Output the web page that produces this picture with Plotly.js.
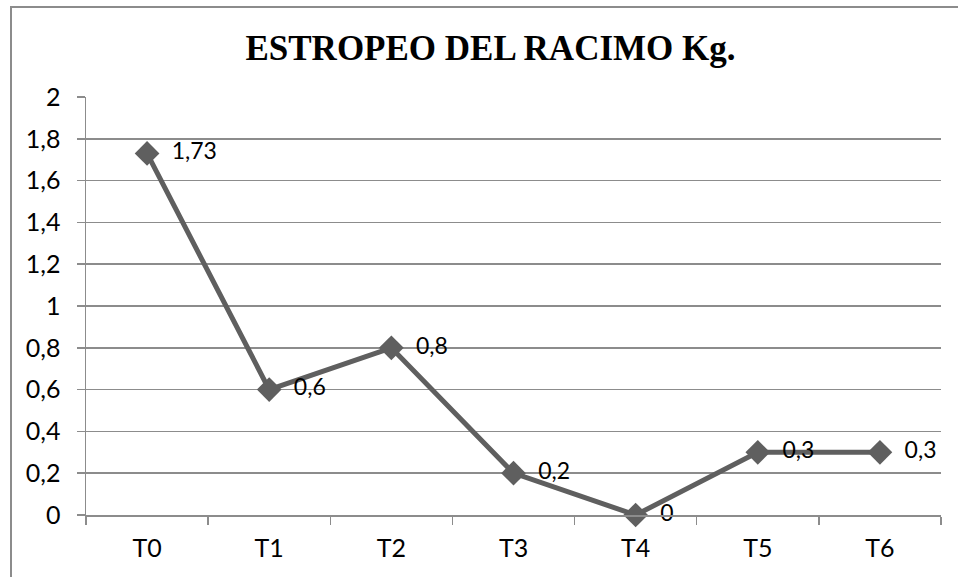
<!DOCTYPE html>
<html>
<head>
<meta charset="utf-8">
<script src="https://cdn.plot.ly/plotly-3.0.1.min.js"></script>
<style>
  html, body { margin: 0; padding: 0; background: #fff; }
  #wrap { position: relative; width: 958px; height: 577px; }
  #myDiv { width: 958px; height: 577px; }
  #frame {
    position: absolute; left: 10px; top: 6px; right: -5px; bottom: -5px;
    border-left: 2px solid #8c8c8c; border-top: 2px solid #8c8c8c;
    pointer-events: none;
  }
</style>
</head>
<body>
<div id="wrap">
  <div id="myDiv"></div>
  <div id="frame"></div>
</div>
<script>
var categories = ['T0', 'T1', 'T2', 'T3', 'T4', 'T5', 'T6'];
var values = [1.73, 0.6, 0.8, 0.2, 0, 0.3, 0.3];
var yTicks = [0, 0.2, 0.4, 0.6, 0.8, 1, 1.2, 1.4, 1.6, 1.8, 2];

var labelText = values.map(function (v) { return '  ' + String(v).replace('.', ','); });
var yTickText = yTicks.map(function (v) { return String(v).replace('.', ','); });

var lineColor = '#5f5f5f';
var gridColor = '#8c8c8c';
var bodyFont = 'Lato, "Open Sans", sans-serif';

var data = [{
    x: categories,
    y: values,
    type: 'scatter',
    mode: 'lines+markers+text',
    text: labelText,
    textposition: 'middle right',
    textfont: {family: bodyFont, size: 23, color: '#000'},
    line: {color: lineColor, width: 5},
    marker: {symbol: 'diamond', size: 19, color: lineColor},
    cliponaxis: false,
    hoverinfo: 'x+y'
}];

var layout = {
    width: 958,
    height: 577,
    margin: {l: 86, r: 17, t: 97, b: 62},
    paper_bgcolor: 'rgba(0,0,0,0)',
    plot_bgcolor: 'rgba(0,0,0,0)',
    showlegend: false,
    title: {
        text: '<b>ESTROPEO DEL RACIMO Kg.</b>',
        font: {family: '"Liberation Serif", "Times New Roman", serif', size: 35, color: '#000'},
        x: 0.512,
        xanchor: 'center',
        y: 0.918,
        yanchor: 'middle'
    },
    xaxis: {
        type: 'category',
        range: [-0.5, 6.5],
        tickson: 'boundaries',
        ticks: 'outside',
        ticklen: 8,
        tickwidth: 1.5,
        tickcolor: gridColor,
        showgrid: false,
        showline: true,
        linecolor: gridColor,
        linewidth: 1.5,
        ticklabelstandoff: 10,
        tickfont: {family: bodyFont, size: 25, color: '#000'},
        zeroline: false
    },
    yaxis: {
        range: [0, 2],
        tickvals: yTicks,
        ticktext: yTickText,
        ticks: 'outside',
        ticklen: 8,
        tickwidth: 1.5,
        tickcolor: gridColor,
        showgrid: true,
        gridcolor: gridColor,
        gridwidth: 1.5,
        showline: true,
        linecolor: gridColor,
        linewidth: 1.5,
        zeroline: false,
        ticklabelstandoff: 11,
        tickfont: {family: bodyFont, size: 25, color: '#000'}
    }
};

Plotly.newPlot('myDiv', data, layout, {displayModeBar: false, staticPlot: true});
</script>
</body>
</html>
